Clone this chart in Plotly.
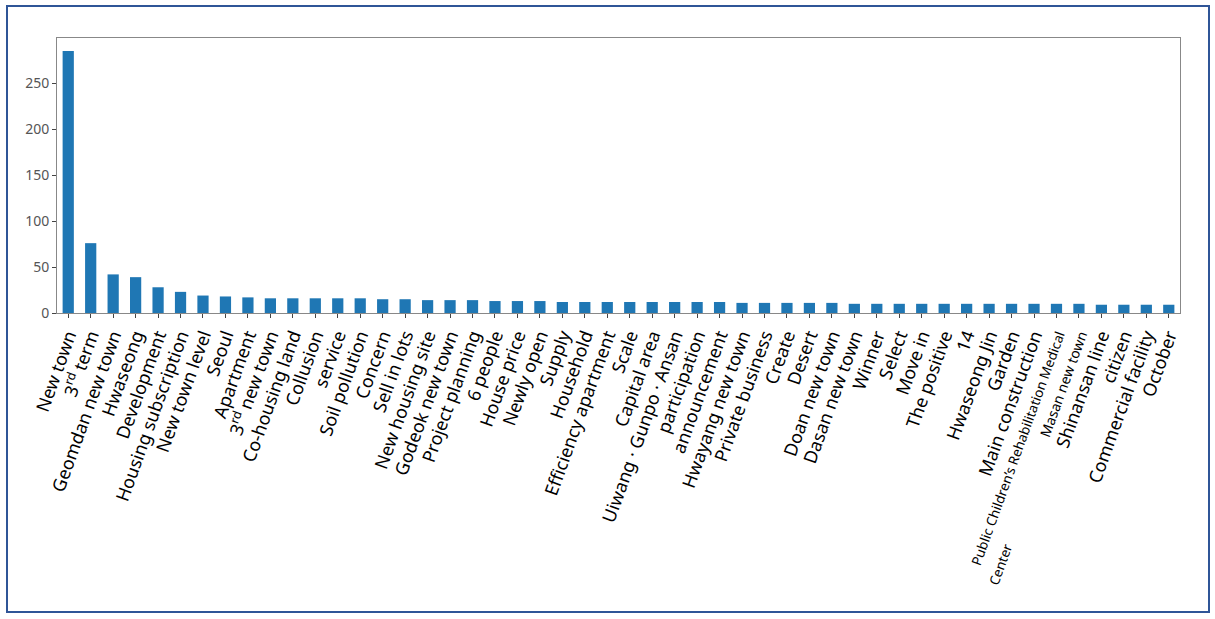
import plotly.graph_objects as go

categories = [
    "New town", "3rd term", "Geomdan new town", "Hwaseong", "Development",
    "Housing subscription", "New town level", "Seoul", "Apartment", "3rd new town",
    "Co-housing land", "Collusion", "service", "Soil pollution", "Concern",
    "Sell in lots", "New housing site", "Godeok new town", "Project planning", "6 people",
    "House price", "Newly open", "Supply", "Household", "Efficiency apartment",
    "Scale", "Capital area", "Uiwang · Gunpo · Ansan", "participation", "announcement",
    "Hwayang new town", "Private business", "Create", "Desert", "Doan new town",
    "Dasan new town", "Winner", "Select", "Move in", "The positive",
    "14", "Hwaseong Jin", "Garden", "Main construction",
    "Public Children's Rehabilitation Medical Center",
    "Masan new town", "Shinansan line", "citizen", "Commercial facility", "October",
]

values = [
    285, 76, 42, 39, 28, 23, 19, 18, 17, 16,
    16, 16, 16, 16, 15, 15, 14, 14, 14, 13,
    13, 13, 12, 12, 12, 12, 12, 12, 12, 12,
    11, 11, 11, 11, 11, 10, 10, 10, 10, 10,
    10, 10, 10, 10, 10, 10, 9, 9, 9, 9,
]

tick_labels = list(categories)
tick_labels[1] = "3<sup>rd</sup> term"
tick_labels[9] = "3<sup>rd</sup> new town"
tick_labels[44] = ("<span style='font-size:13.5px'> <br>Public Children\u2019s Rehabilitation Medical<br>"
                   "Center" + "&nbsp;" * 62 + "</span>")
tick_labels[45] = "<span style='font-size:14px'>Masan new town</span>"

y_ticks = [0, 50, 100, 150, 200, 250]

fig = go.Figure(
    go.Bar(
        x=categories,
        y=values,
        width=0.5,
        marker=dict(color="#1f77b4", line=dict(width=0)),
    )
)

L, R, T, B = 57, 1180, 38, 313
W, H = 1215, 619
pw, ph = R - L, B - T

def px_x(px):
    return (px - L) / pw

def px_y(py):
    return (B - py) / ph

fig.update_layout(
    template="none",
    width=W,
    height=H,
    margin=dict(l=L, r=W - R, t=T, b=H - B, autoexpand=False),
    paper_bgcolor="white",
    plot_bgcolor="white",
    showlegend=False,
    font=dict(family="Noto Sans, Open Sans, sans-serif", color="#000"),
    xaxis=dict(
        type="category",
        tickmode="array",
        tickvals=categories,
        ticktext=tick_labels,
        tickangle=-70,
        tickfont=dict(size=18, color="#000", family="Noto Sans, Open Sans, sans-serif"),
        ticks="outside",
        ticklen=4,
        tickcolor="#444",
        showgrid=False,
        showline=True,
        linecolor="#888",
        linewidth=1,
        mirror=True,
        range=[-0.5, len(categories) - 0.5],
        automargin=False,
        zeroline=False,
    ),
    yaxis=dict(
        range=[0, 299.25],
        tickvals=y_ticks,
        tickfont=dict(size=14, color="#555", family="Noto Sans, Open Sans, sans-serif"),
        ticks="outside",
        ticklen=4,
        tickcolor="#444",
        showgrid=False,
        showline=True,
        linecolor="#888",
        linewidth=1,
        mirror=True,
        zeroline=False,
        automargin=False,
    ),
    shapes=[
        dict(
            type="rect",
            xref="paper",
            yref="paper",
            x0=px_x(7),
            x1=px_x(1209),
            y0=px_y(612),
            y1=px_y(6),
            line=dict(color="#2f5597", width=2),
            fillcolor="rgba(0,0,0,0)",
            layer="below",
        )
    ],
)

fig.write_html(
    "out.html",
    config={"displayModeBar": False},
    post_script="document.body.style.margin='0';document.body.style.overflow='hidden';",
)
